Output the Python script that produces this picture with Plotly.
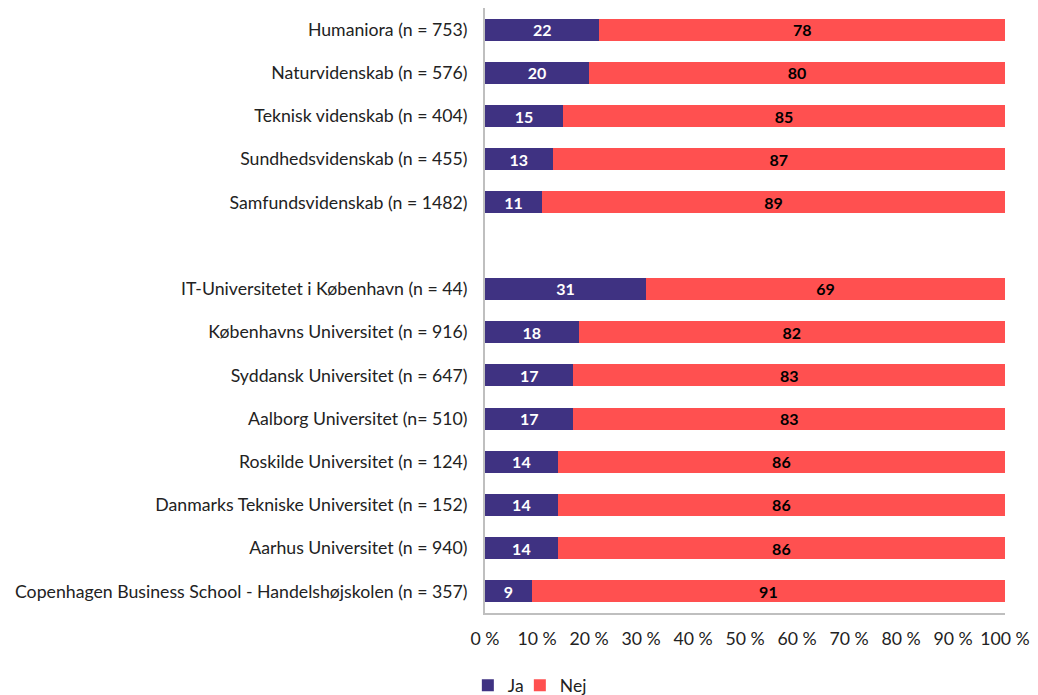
import plotly.graph_objects as go

categories = [
    "Humaniora (n = 753)",
    "Naturvidenskab (n = 576)",
    "Teknisk videnskab (n = 404)",
    "Sundhedsvidenskab (n = 455)",
    "Samfundsvidenskab (n = 1482)",
    " ",
    "IT-Universitetet i København (n = 44)",
    "Københavns Universitet (n = 916)",
    "Syddansk Universitet (n = 647)",
    "Aalborg Universitet (n= 510)",
    "Roskilde Universitet (n = 124)",
    "Danmarks Tekniske Universitet (n = 152)",
    "Aarhus Universitet (n = 940)",
    "Copenhagen Business School - Handelshøjskolen (n = 357)",
]
ja = [22, 20, 15, 13, 11, None, 31, 18, 17, 17, 14, 14, 14, 9]
nej = [78, 80, 85, 87, 89, None, 69, 82, 83, 83, 86, 86, 86, 91]
tick_vals = [0, 10, 20, 30, 40, 50, 60, 70, 80, 90, 100]
tick_text = [f"{v} %" for v in tick_vals]

FONT = "Lato"

fig = go.Figure()
fig.add_trace(go.Bar(
    y=categories, x=ja, name="Ja", orientation="h",
    marker=dict(color="#3f3282", line=dict(width=0)),
    text=ja, textposition="inside", insidetextanchor="middle", textangle=0,
    constraintext="none",
    textfont=dict(color="white", size=16, family=FONT, weight="bold"),
    legend="legend",
))
fig.add_trace(go.Bar(
    y=categories, x=nej, name="Nej", orientation="h",
    marker=dict(color="#ff5050", line=dict(width=0)),
    text=nej, textposition="inside", insidetextanchor="middle", textangle=0,
    constraintext="none",
    textfont=dict(color="black", size=16, family=FONT, weight="bold"),
    legend="legend2",
))

legend_style = dict(
    orientation="h", xanchor="left", y=-0.09, yanchor="top",
    font=dict(size=17.5, family=FONT), itemwidth=30,
    bgcolor="rgba(0,0,0,0)",
)

# page body adds an 8px offset, margins are shifted to compensate
fig.update_layout(
    barmode="stack",
    bargap=0.49,
    width=1038, height=695,
    margin=dict(l=477, r=41, t=0, b=90, autoexpand=False),
    paper_bgcolor="white",
    plot_bgcolor="white",
    font=dict(family=FONT, size=17.7, color="#222222"),
    showlegend=True,
    legend=dict(x=-0.033, **legend_style),
    legend2=dict(x=0.067, **legend_style),
)
fig.update_xaxes(
    range=[0, 100], tickvals=tick_vals, ticktext=tick_text,
    showgrid=False, zeroline=False,
    showline=True, linecolor="#bfbfbf", linewidth=2,
    ticks="", ticklabelstandoff=9,
)
fig.update_yaxes(
    categoryorder="array", categoryarray=categories, autorange="reversed",
    showgrid=False, showline=True, linecolor="#bfbfbf", linewidth=2,
    ticks="", ticklabelstandoff=12,
)

fig.write_html("out.html")
